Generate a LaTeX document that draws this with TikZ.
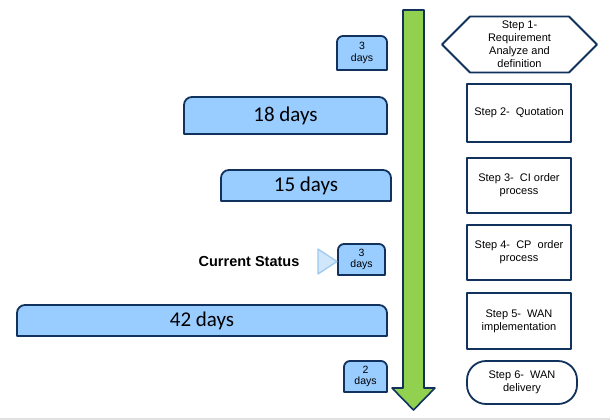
\documentclass[tikz,border=0pt]{standalone}
\usepackage{fontspec}
\setmainfont{Liberation Sans}
\newfontfamily\calibri{Carlito}
\usetikzlibrary{shapes.symbols}
\definecolor{navy}{HTML}{10325C}
\definecolor{barblue}{HTML}{99CCFF}
\definecolor{arrowgreen}{HTML}{92D050}
\definecolor{tripale}{HTML}{CFE6FB}
\definecolor{triline}{HTML}{9CC8EE}
\tikzset{
  bar/.style={draw=navy,fill=barblue,line width=1.8pt,line join=round},
  bigdays/.style={font=\calibri\fontsize{21}{24}\selectfont},
  smalldays/.style={font=\fontsize{10.5}{11.5}\selectfont,align=center},
  steptext/.style={font=\fontsize{11}{13}\selectfont,align=center},
  stepbox/.style={steptext,draw=navy,line width=1.8pt,minimum width=104pt,inner sep=0pt}
}
\begin{document}
\begin{tikzpicture}[x=1pt,y=-1pt,line join=round]
  \useasboundingbox (0,0) rectangle (610,420);
  \fill[white] (0,0) rectangle (610,420);
  \fill[black!12] (0,418) rectangle (610,420);
  % timeline arrow
  \draw[fill=arrowgreen,draw=navy,line width=1.6pt]
    (403,10) -- (424,10) -- (424,388) -- (435,388) -- (413.5,410)
    -- (392,388) -- (403,388) -- cycle;
  % duration bars
  \draw[bar] (337,70) [rounded corners=6pt] -- (337,36) -- (387,36) [sharp corners] -- (387,70) -- cycle;
  \draw[bar] (184,134) [rounded corners=8pt] -- (184,97) -- (387,97) [sharp corners] -- (387,134) -- cycle;
  \draw[bar] (221,201) [rounded corners=8pt] -- (221,170) -- (391,170) [sharp corners] -- (391,201) -- cycle;
  \draw[bar] (338,275) [rounded corners=6pt] -- (338,244) -- (385,244) [sharp corners] -- (385,275) -- cycle;
  \draw[bar] (17,336) [rounded corners=8pt] -- (17,305) -- (387,305) [sharp corners] -- (387,336) -- cycle;
  \draw[bar] (344,392) [rounded corners=6pt] -- (344,361) -- (387,361) [sharp corners] -- (387,392) -- cycle;
  \node[smalldays] (d3a) at (362,53) {3\\days};
  \node[bigdays] (d18) at (285.5,115.5) {18 days};
  \node[bigdays] (d15) at (306,185.5) {15 days};
  \node[smalldays] (d3b) at (361.5,259.5) {3\\days};
  \node[bigdays] (d42) at (202,320.5) {42 days};
  \node[smalldays] (d2) at (365.5,376.5) {2\\days};
  % current status marker
  \draw[fill=tripale,draw=triline,line width=1.2pt] (318,249) -- (337,261.5) -- (318,274) -- cycle;
  \node[font=\bfseries\fontsize{14.5}{16}\selectfont] (status) at (249,262) {Current Status};
  % steps
  \node[steptext,draw=navy,line width=1.8pt,shape=signal,signal to=west and east,
        signal pointer angle=90,minimum width=155pt,minimum height=56pt,inner sep=0pt]
        (s1) at (519.5,44.5) {Step 1-\\Requirement\\Analyze and\\definition};
  \node[stepbox,minimum height=58pt] (s2) at (519,113) {Step 2-\ \ Quotation};
  \node[stepbox,minimum height=55pt] (s3) at (519,185.5) {Step 3-\ \ CI order\\process};
  \node[stepbox,minimum height=55pt] (s4) at (519,252.5) {Step 4-\ \ CP\ \ order\\process};
  \node[stepbox,minimum height=56pt] (s5) at (519,321) {Step 5-\ \ WAN\\implementation};
  \node[stepbox,minimum width=110pt,minimum height=43pt,rounded corners=19pt] (s6) at (522,382.5) {Step 6-\ \ WAN\\delivery};
\end{tikzpicture}
\end{document}
